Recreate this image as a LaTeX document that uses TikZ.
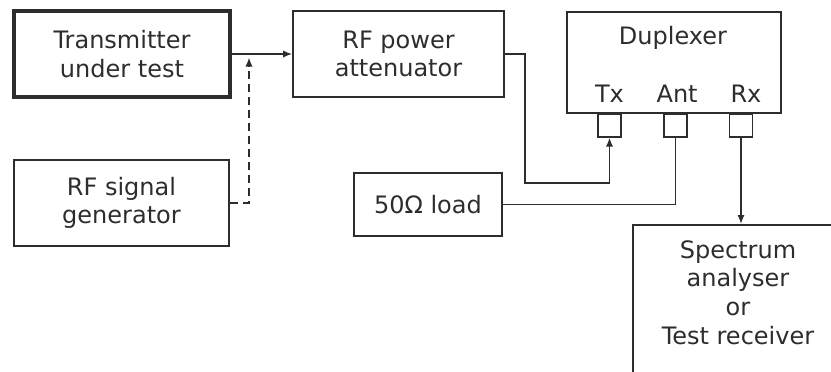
\documentclass[tikz,border=0pt]{standalone}
\usepackage{fontspec}
\setmainfont{DejaVu Sans}
\usepackage{xcolor}
\usetikzlibrary{arrows.meta, positioning, calc}
\definecolor{inkgray}{RGB}{45,45,45}
\tikzset{
  block/.style={rectangle, minimum width=107pt, minimum height=43pt, align=center, draw=inkgray, text=inkgray, font=\fontsize{12}{14.3}\selectfont, inner sep=0pt, line width=0.8pt},
  blockT/.style={block, line width=1.8pt},
  port/.style={rectangle, minimum width=11.5pt, minimum height=11.5pt, draw=inkgray, inner sep=0pt, line width=0.8pt},
  portlbl/.style={text=inkgray, font=\fontsize{12}{14}\selectfont, inner sep=0pt},
  arrow/.style={-{Latex[length=4.5pt, width=3.6pt]}, draw=inkgray, line width=0.8pt},
  darrow/.style={arrow, dash pattern=on 4pt off 2.5pt},
  wire/.style={draw=inkgray, line width=0.8pt},
}
\begin{document}
\begin{tikzpicture}[x=0.5pt, y=-0.5pt]
\clip (0,0) rectangle (831,371);
\node (tx)   [blockT, minimum width=108pt] at (122,54) {Transmitter\\under test};
\node (att)  [block, minimum width=105.5pt] at (398.5,54) {RF power\\attenuator};
\node (gen)  [block, minimum width=107.5pt] at (121.5,203) {RF signal\\generator};
\node (load) [block, minimum width=74pt, minimum height=31.5pt] at (428,204.5) {50Ω load};
\node (dup)  [block, minimum height=50.5pt] at (674,62.5) {};
\node (dupname) [portlbl, anchor=base] at (673,44) {Duplexer};
\node (txp)  [port, anchor=north] at (609.5,113) {};
\node (antp) [port, anchor=north] at (675.5,113) {};
\node (rxp)  [port, anchor=north] at (741,113) {};
\node (txl)  [portlbl, above=5pt of txp] {Tx};
\node (antl) [portlbl, above=5pt of antp, xshift=0.8pt] {Ant};
\node (rxl)  [portlbl, above=5pt of rxp, xshift=2.5pt] {Rx};
\node (spec) [block, minimum width=150pt, minimum height=120pt, anchor=north west] at (632,224) {};
\node (spectxt) [block, draw=none, minimum width=0pt, minimum height=0pt] at (738,292.5) {Spectrum\\analyser\\or\\Test receiver};
\coordinate (inj) at (249,57.5);
% signal path
\draw[arrow] (tx) -- (att);
\draw[darrow] (gen.east) -| (inj);
\draw[arrow] (att.east) -| (525,183) -| (txp.south);
\draw[wire] (load.east) -| (antp.south);
\draw[arrow] (rxp.south) -- (rxp.south |- spec.north);
\end{tikzpicture}
\end{document}
